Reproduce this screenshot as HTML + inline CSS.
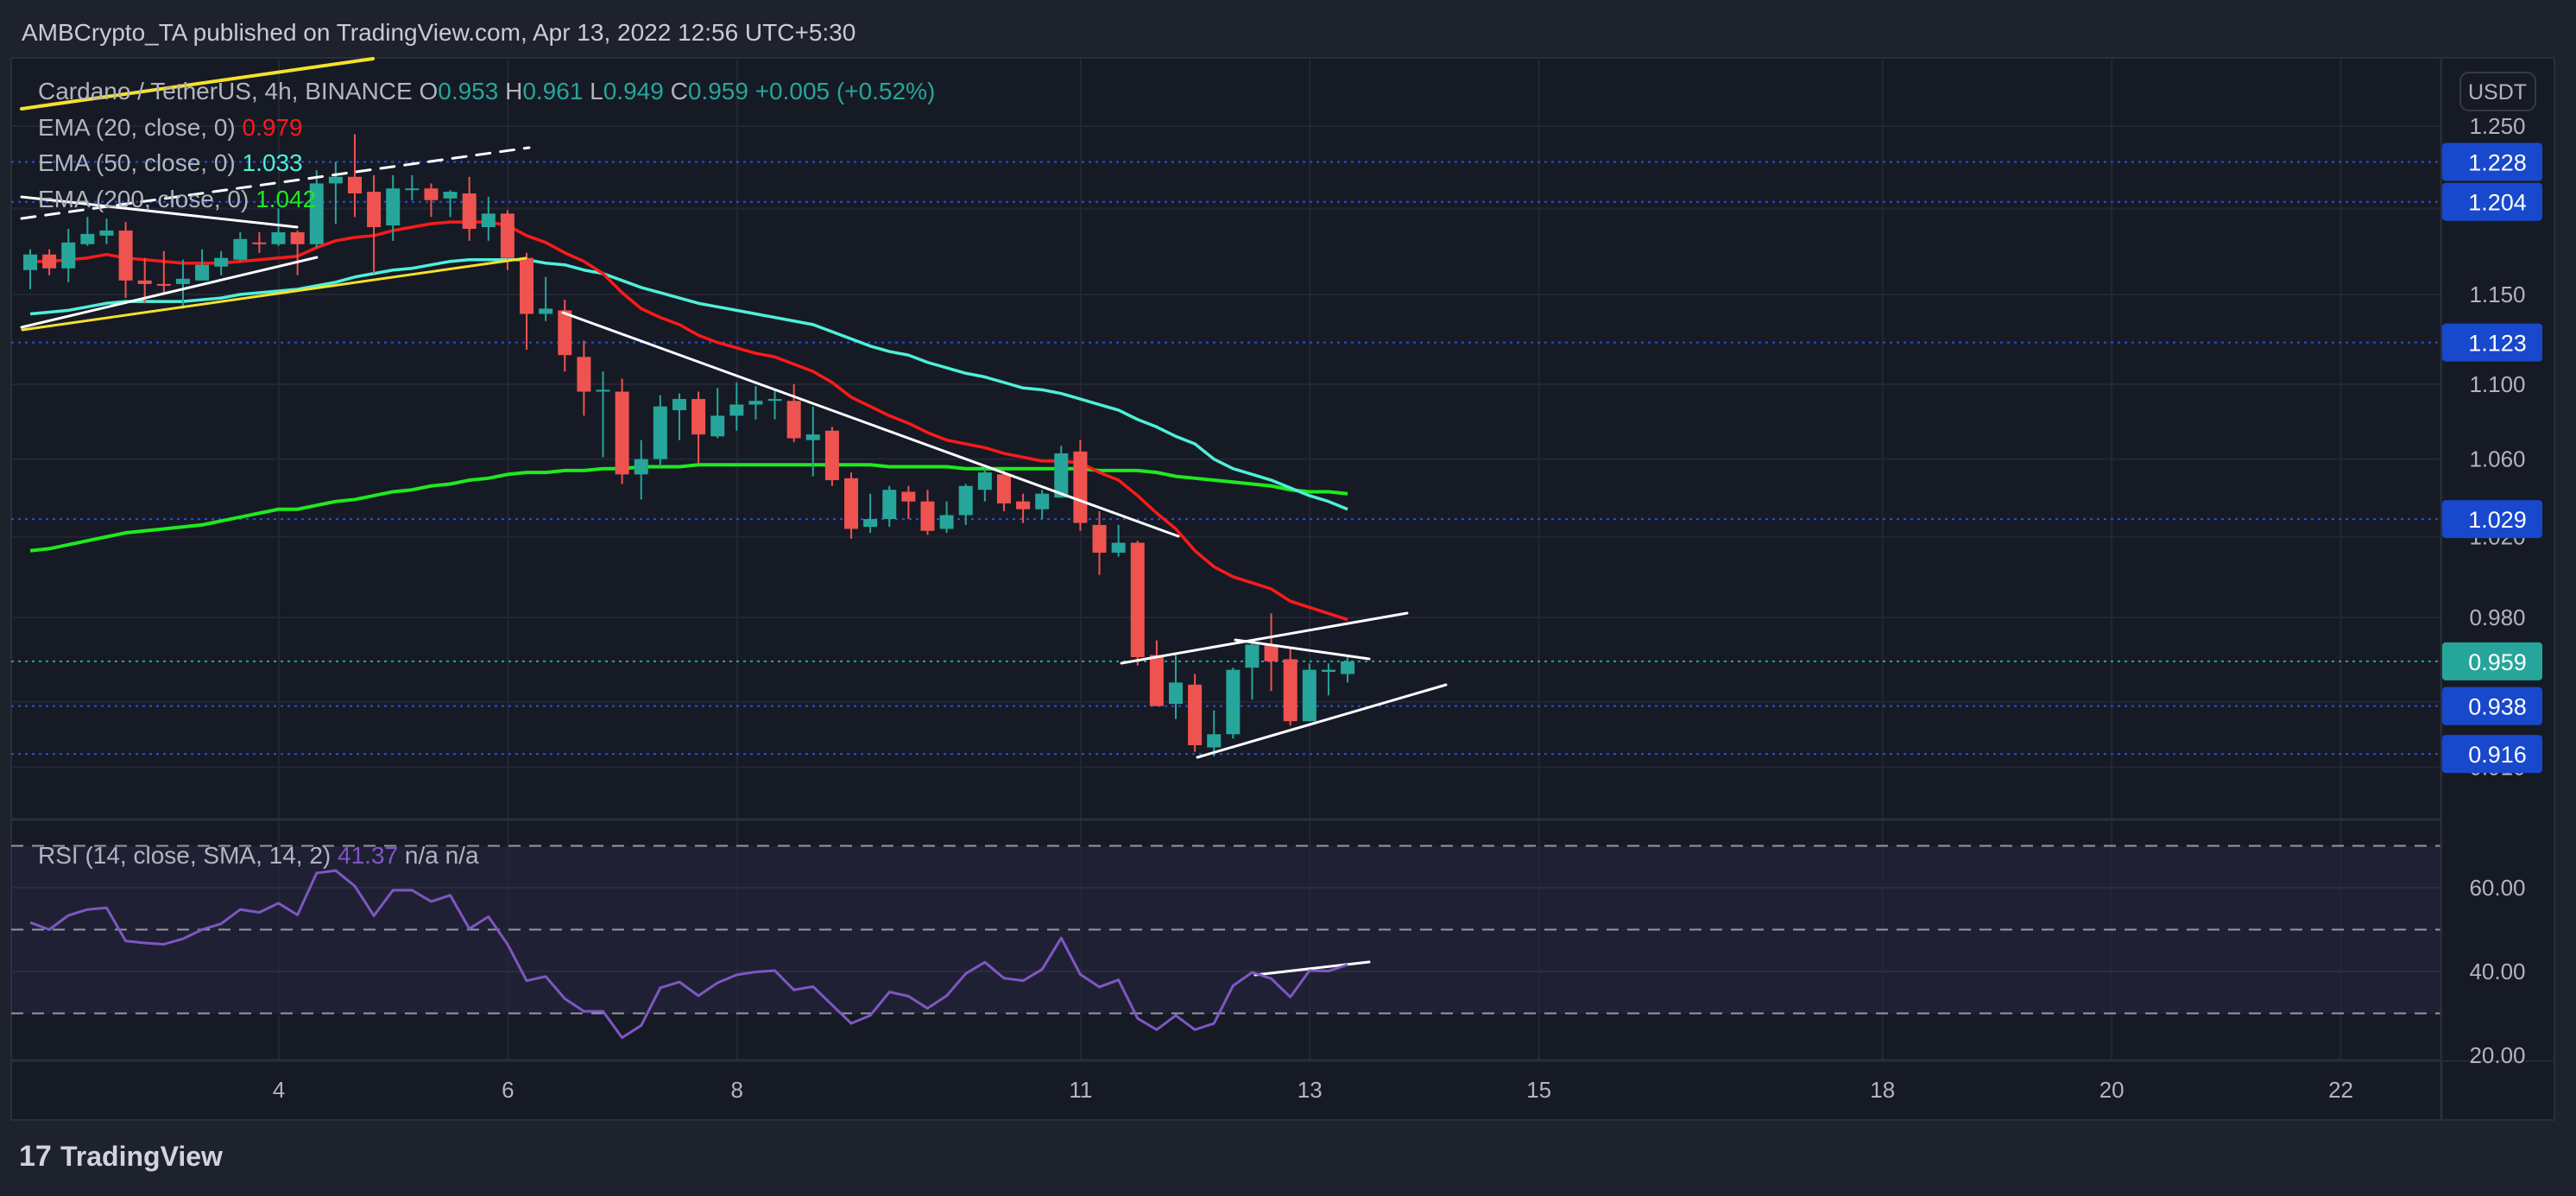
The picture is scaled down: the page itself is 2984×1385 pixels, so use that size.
<!DOCTYPE html>
<html><head><meta charset="utf-8">
<style>
html,body{margin:0;padding:0;background:#1e222d;}
svg{display:block;font-family:"Liberation Sans",sans-serif;}
</style></head>
<body>
<svg id="chart" width="2984" height="1385" viewBox="0 0 2984 1385" xmlns="http://www.w3.org/2000/svg">
<rect x="0" y="0" width="2984" height="1385" fill="#1e222d"/>
<text x="25" y="47" font-size="28" fill="#c9cbd2">AMBCrypto_TA published on TradingView.com, Apr 13, 2022 12:56 UTC+5:30</text>
<rect x="13" y="67" width="2946" height="1230" fill="#161a25" stroke="#2a2e39" stroke-width="2"/>
<rect x="13" y="980" width="2815" height="194" fill="#7e57c2" fill-opacity="0.1"/>
<g id="grid"></g>
<g id="levels"></g>
<g id="emas"></g>
<g id="candles"></g>
<g id="drawings" stroke-linecap="round">
<line x1="25" y1="126" x2="432" y2="68" stroke="#f5e12a" stroke-width="4"/>
<line x1="26" y1="382" x2="609" y2="299" stroke="#f5e12a" stroke-width="3"/>
<line x1="25" y1="253" x2="613" y2="171" stroke="#ffffff" stroke-width="3" stroke-dasharray="16,12"/>
<line x1="25" y1="228" x2="344" y2="263" stroke="#ffffff" stroke-width="3"/>
<line x1="25" y1="379" x2="367" y2="298" stroke="#ffffff" stroke-width="3"/>
<line x1="652" y1="362" x2="1365" y2="621" stroke="#ffffff" stroke-width="3"/>
<line x1="1299" y1="768" x2="1630" y2="710" stroke="#ffffff" stroke-width="3"/>
<line x1="1431" y1="741" x2="1586" y2="763" stroke="#ffffff" stroke-width="3"/>
<line x1="1387" y1="877" x2="1675" y2="793" stroke="#ffffff" stroke-width="3"/>
<line x1="1454" y1="1129" x2="1586" y2="1114" stroke="#ffffff" stroke-width="3"/>
</g>
<g id="rsi"></g>
<line x1="13" y1="949" x2="2959" y2="949" stroke="#2a2e39" stroke-width="3"/>
<line x1="13" y1="1228" x2="2959" y2="1228" stroke="#2a2e39" stroke-width="3"/>
<line x1="2828" y1="67" x2="2828" y2="1297" stroke="#2a2e39" stroke-width="3"/>
<rect x="2829" y="68" width="129" height="1160" fill="#161a25"/>
<g id="axis" font-size="26"></g>
<g font-size="28">
<text x="44" y="115" fill="#b2b5be">Cardano / TetherUS, 4h, BINANCE  O<tspan fill="#26a69a">0.953</tspan>  H<tspan fill="#26a69a">0.961</tspan>  L<tspan fill="#26a69a">0.949</tspan>  C<tspan fill="#26a69a">0.959</tspan>  <tspan fill="#26a69a">+0.005 (+0.52%)</tspan></text>
<text x="44" y="157" fill="#b2b5be">EMA (20, close, 0)  <tspan fill="#ff1a1a">0.979</tspan></text>
<text x="44" y="198" fill="#b2b5be">EMA (50, close, 0)  <tspan fill="#4ef0d8">1.033</tspan></text>
<text x="44" y="240" fill="#b2b5be">EMA (200, close, 0)  <tspan fill="#1eea1e">1.042</tspan></text>
<text x="44" y="1000" fill="#b2b5be">RSI (14, close, SMA, 14, 2)  <tspan fill="#7e57c2">41.37</tspan>  n/a  n/a</text>
</g>
<rect x="2850" y="84" width="87" height="44" rx="10" fill="none" stroke="#363a45" stroke-width="2"/>
<text x="2893" y="115" font-size="25" fill="#b2b5be" text-anchor="middle">USDT</text>
<g>
<text x="22" y="1350" font-size="34" font-weight="bold" fill="#d1d4dc">17</text>
<text x="70" y="1350" font-size="32" font-weight="bold" fill="#d1d4dc">TradingView</text>
</g>
</svg>
<script>
const opens=[1.164,1.173,1.165,1.179,1.184,1.187,1.158,1.156,1.156,1.158,1.166,1.170,1.180,1.179,1.186,1.179,1.215,1.219,1.210,1.190,1.212,1.212,1.206,1.209,1.189,1.197,1.171,1.139,1.141,1.115,1.096,1.096,1.052,1.060,1.086,1.092,1.072,1.083,1.089,1.091,1.091,1.070,1.075,1.050,1.025,1.029,1.043,1.038,1.024,1.031,1.044,1.052,1.038,1.034,1.040,1.064,1.026,1.012,1.017,0.962,0.939,0.948,0.919,0.925,0.956,0.967,0.960,0.931,0.954,0.953];
const highs=[1.176,1.176,1.188,1.195,1.194,1.192,1.171,1.175,1.170,1.176,1.175,1.186,1.186,1.200,1.187,1.223,1.228,1.245,1.220,1.220,1.220,1.215,1.211,1.219,1.207,1.199,1.174,1.160,1.147,1.124,1.107,1.103,1.070,1.094,1.095,1.096,1.098,1.101,1.099,1.097,1.100,1.088,1.077,1.053,1.042,1.046,1.046,1.044,1.038,1.047,1.056,1.054,1.042,1.044,1.067,1.070,1.033,1.026,1.018,0.969,0.962,0.953,0.936,0.956,0.969,0.982,0.965,0.958,0.958,0.961];
const lows=[1.153,1.161,1.157,1.178,1.179,1.148,1.145,1.150,1.142,1.158,1.161,1.169,1.174,1.178,1.161,1.177,1.191,1.195,1.162,1.181,1.205,1.195,1.195,1.181,1.181,1.164,1.119,1.135,1.107,1.083,1.061,1.047,1.039,1.056,1.070,1.058,1.071,1.075,1.081,1.081,1.069,1.051,1.046,1.019,1.022,1.025,1.029,1.021,1.022,1.026,1.038,1.033,1.027,1.029,1.040,1.023,1.001,1.010,0.957,0.938,0.932,0.917,0.915,0.923,0.941,0.945,0.929,0.931,0.943,0.949];
const closes=[1.173,1.165,1.180,1.185,1.187,1.158,1.156,1.155,1.159,1.167,1.171,1.182,1.179,1.186,1.179,1.215,1.219,1.209,1.189,1.212,1.212,1.205,1.210,1.188,1.197,1.171,1.139,1.142,1.116,1.096,1.097,1.052,1.060,1.088,1.092,1.073,1.083,1.089,1.091,1.092,1.071,1.073,1.049,1.024,1.029,1.044,1.038,1.023,1.031,1.046,1.053,1.037,1.034,1.042,1.063,1.027,1.012,1.017,0.961,0.938,0.949,0.920,0.925,0.955,0.967,0.959,0.931,0.955,0.955,0.959];
const ema20=[1.169,1.169,1.170,1.171,1.173,1.171,1.170,1.169,1.168,1.168,1.168,1.169,1.170,1.171,1.172,1.177,1.181,1.183,1.184,1.187,1.189,1.191,1.192,1.192,1.192,1.190,1.184,1.180,1.174,1.169,1.162,1.151,1.142,1.137,1.133,1.127,1.123,1.120,1.117,1.115,1.111,1.107,1.101,1.093,1.088,1.083,1.079,1.074,1.070,1.068,1.066,1.063,1.061,1.059,1.059,1.058,1.053,1.049,1.041,1.032,1.024,1.013,1.005,1.000,0.997,0.994,0.988,0.985,0.982,0.979];
const ema50=[1.139,1.140,1.141,1.143,1.145,1.146,1.146,1.146,1.146,1.147,1.148,1.150,1.151,1.152,1.153,1.155,1.157,1.160,1.162,1.164,1.165,1.167,1.169,1.170,1.170,1.170,1.170,1.168,1.167,1.164,1.162,1.158,1.154,1.151,1.148,1.145,1.143,1.141,1.139,1.137,1.135,1.133,1.129,1.125,1.121,1.118,1.116,1.112,1.109,1.106,1.104,1.101,1.098,1.097,1.095,1.092,1.089,1.086,1.081,1.077,1.072,1.068,1.060,1.055,1.052,1.049,1.045,1.041,1.038,1.034];
const ema200=[1.013,1.014,1.016,1.018,1.020,1.022,1.023,1.024,1.025,1.026,1.028,1.030,1.032,1.034,1.034,1.036,1.038,1.039,1.041,1.043,1.044,1.046,1.047,1.049,1.050,1.052,1.053,1.053,1.054,1.054,1.055,1.055,1.056,1.056,1.056,1.057,1.057,1.057,1.057,1.057,1.057,1.057,1.057,1.057,1.057,1.056,1.056,1.056,1.056,1.055,1.055,1.055,1.055,1.055,1.055,1.055,1.054,1.054,1.054,1.053,1.051,1.050,1.049,1.048,1.047,1.046,1.044,1.043,1.043,1.042];
const rsiValues=[51.7,50.0,53.4,54.8,55.2,47.3,46.8,46.5,47.8,50.0,51.4,54.8,54.1,56.3,53.5,63.5,64.1,60.4,53.3,59.4,59.4,56.7,58.2,50.2,53.1,46.5,37.8,38.8,33.5,30.5,30.5,24.2,27.1,36.1,37.5,34.2,37.3,39.2,39.9,40.2,35.6,36.4,32.0,27.6,29.5,35.1,34.1,31.2,34.2,39.5,42.2,38.4,37.8,40.5,48.0,39.3,36.3,38.0,28.8,26.1,29.5,26.1,27.6,36.6,39.8,38.3,33.9,40.2,40.1,41.6];
const priceTicks=[1.25,1.2,1.15,1.1,1.06,1.02,0.98,0.94,0.91];
const priceTickLabels=["1.250","","1.150","1.100","1.060","1.020","0.980","0.940","0.910"];
const levelValues=[1.228,1.204,1.123,1.029,0.938,0.916];
const lastPrice=0.959;
const rsiTicks=[60,40,20];
const rsiTickLabels=["60.00","40.00","20.00"];
const dayTicks=[4,6,8,11,13,15,18,20,22];
const firstCandleDay=1.83;

const NS="http://www.w3.org/2000/svg";
function mk(tag,attrs,parent){const e=document.createElementNS(NS,tag);for(const k in attrs)e.setAttribute(k,attrs[k]);parent.appendChild(e);return e;}
const yP=p=>146+(Math.log(1.25)-Math.log(p))*2339;
const yR=v=>1125-(v-40)*4.85;
const dayPx=132.7, step=dayPx/6;
const xI=i=>35+i*step;
const xD=d=>35+(d-firstCandleDay)*dayPx;

const grid=document.getElementById('grid');
dayTicks.forEach(d=>{const l=mk('line',{x1:xD(d),x2:xD(d),y1:68,y2:1228,stroke:'#232734','stroke-width':2},grid);

});
priceTicks.forEach(p=>{const l=mk('line',{x1:13,x2:2828,y1:yP(p),y2:yP(p),stroke:'#232734','stroke-width':2},grid);

});
rsiTicks.slice(0,2).forEach(v=>{const l=mk('line',{x1:13,x2:2828,y1:yR(v),y2:yR(v),stroke:'#2a2d3c','stroke-width':2},grid);

});
[70,50,30].forEach(v=>{const l=mk('line',{x1:13,x2:2828,y1:yR(v),y2:yR(v),stroke:'#9598a1','stroke-width':2,'stroke-dasharray':'14,10'},grid);

});

const lv=document.getElementById('levels');
levelValues.forEach(p=>{const l=mk('line',{x1:13,x2:2828,y1:yP(p),y2:yP(p),stroke:'#2a4fd8','stroke-width':2,'stroke-dasharray':'3,5'},lv);

});
{const l=mk('line',{x1:13,x2:2828,y1:yP(lastPrice),y2:yP(lastPrice),stroke:'#26a69a','stroke-width':2,'stroke-dasharray':'3,5'},lv);

}

const em=document.getElementById('emas');
[[ema200,'#1eea1e',4,'ema200-line'],[ema50,'#4ef0d8',3.5,'ema50-line'],[ema20,'#ff1a1a',3.5,'ema20-line']].forEach(([arr,c,w,n])=>{
const pl=mk('polyline',{points:arr.map((v,i)=>xI(i)+','+yP(v)).join(' '),fill:'none',stroke:c,'stroke-width':w,'stroke-linejoin':'round'},em);

});

const cg=document.getElementById('candles');
opens.forEach((o,i)=>{const c=closes[i],up=c>=o,col=up?'#26a69a':'#ef5350',x=xI(i);
const g=mk('g',{},cg);


mk('line',{x1:x,x2:x,y1:yP(highs[i]),y2:yP(lows[i]),stroke:col,'stroke-width':2},g);
const t=yP(Math.max(o,c)),b=yP(Math.min(o,c));
mk('rect',{x:x-8,y:t,width:16,height:Math.max(b-t,2),fill:col},g);});

const rg=document.getElementById('rsi');
{const pl=mk('polyline',{points:rsiValues.map((v,i)=>xI(i)+','+yR(v)).join(' '),fill:'none',stroke:'#7e57c2','stroke-width':3,'stroke-linejoin':'round'},rg);

}

const ax=document.getElementById('axis');
priceTicks.forEach((p,i)=>{if(!priceTickLabels[i])return;const t=mk('text',{x:2893,y:yP(p)+9,fill:'#b2b5be','text-anchor':'middle'},ax);t.textContent=priceTickLabels[i];

});
rsiTicks.forEach((v,i)=>{const t=mk('text',{x:2893,y:yR(v)+9,fill:'#b2b5be','text-anchor':'middle'},ax);t.textContent=rsiTickLabels[i];

});
dayTicks.forEach(d=>{const t=mk('text',{x:xD(d),y:1271,fill:'#b2b5be','text-anchor':'middle'},ax);t.textContent=String(d);

});
function badge(p,col,name){const y=yP(p);const g=mk('g',{},ax);


mk('rect',{x:2829,y:y-22,width:116,height:44,rx:4,fill:col},g);
const t=mk('text',{x:2893,y:y+10,fill:'#ffffff','text-anchor':'middle','font-size':27},g);t.textContent=p.toFixed(3);}
levelValues.forEach(p=>badge(p,'#1848cc','level-price-label'));
badge(lastPrice,'#26a69a','last-price-label');
</script>
</body></html>
